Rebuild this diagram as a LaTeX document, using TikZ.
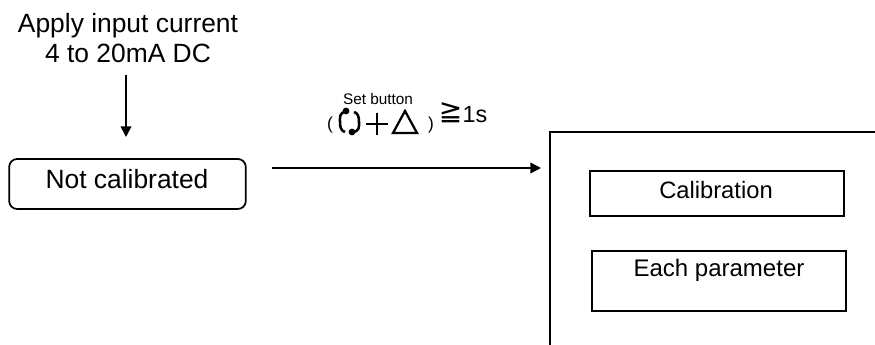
\documentclass[tikz,border=0pt]{standalone}
\usepackage{fontspec}
\setmainfont{Liberation Sans}
\usepackage{tikz}
\usetikzlibrary{arrows.meta}
\newfontfamily\symfont{DejaVu Sans}
\tikzset{
  box/.style={draw=black,line width=1.3pt,inner sep=0pt},
  lbl/.style={inner sep=0pt,font=\fontsize{19.8}{22}\selectfont,align=center},
  small/.style={inner sep=0pt,font=\fontsize{11.5}{13}\selectfont},
  arr/.style={draw=black,line width=1.2pt,-{Triangle[length=8pt,width=8pt]}}
}
\begin{document}
\begin{tikzpicture}[x=0.75pt,y=-0.75pt]
\useasboundingbox (0,0) rectangle (875,345);
\draw [black,line width=0.8pt] (550,345) -- (550,132) -- (875,132);
\node [lbl] (input) at (128,38) {Apply input current\\4 to 20mA DC};
\node [box,rounded corners=6pt,minimum width=177.5pt,minimum height=37.5pt] (notcal) at (127.5,184) {};
\node [lbl] (notcaltxt) at (127,179) {Not calibrated};
\node [box,minimum width=190.5pt,minimum height=33.75pt] (calib) at (717,193.5) {};
\node [lbl,font=\fontsize{17.8}{20}\selectfont] (calibtxt) at (716,190) {Calibration};
\node [box,minimum width=190.5pt,minimum height=45pt] (param) at (719,281) {};
\node [lbl,font=\fontsize{18}{20}\selectfont] (paramtxt) at (719,270) {Each parameter};
\coordinate (from) at (126,75);
\coordinate (to) at (126,137);
\draw [arr] (from) -- (to);
\coordinate (sfrom) at (272,168);
\coordinate (sto) at (541,168);
\draw [arr] (sfrom) -- (sto);
% key symbols above the arrow
\node [small] (setbtn) at (378,99) {Set button};
\node [small,font=\fontsize{13}{15}\selectfont] (lpar) at (330,125) {(};
\node [small,font=\fontsize{13}{15}\selectfont] (rpar) at (431,125) {)};
\draw [black,line width=1.9pt] (346,112) .. controls (339,112) and (340,118) .. (340,122) .. controls (340,127) and (341,131) .. (345,132);
\draw [black,line width=1.9pt] (352,132) .. controls (360,132) and (359,126) .. (359,122) .. controls (359,117) and (358,113) .. (354,112);
\fill [black] (346,111) circle (3.4);
\fill [black] (352,132) circle (3.4);
\draw [black,line width=1.5pt] (366,124) -- (388,124) (377,113) -- (377,135);
\draw [black,line width=1.7pt,line join=miter] (405,111) -- (417,133) -- (393,133) -- cycle;
\node [inner sep=0pt,font=\symfont\fontsize{21}{24}\selectfont] (geq) at (450.5,113) {≧};
\node [inner sep=0pt,font=\fontsize{17.5}{20}\selectfont] (onesec) at (475,115) {1s};
\end{tikzpicture}
\end{document}
